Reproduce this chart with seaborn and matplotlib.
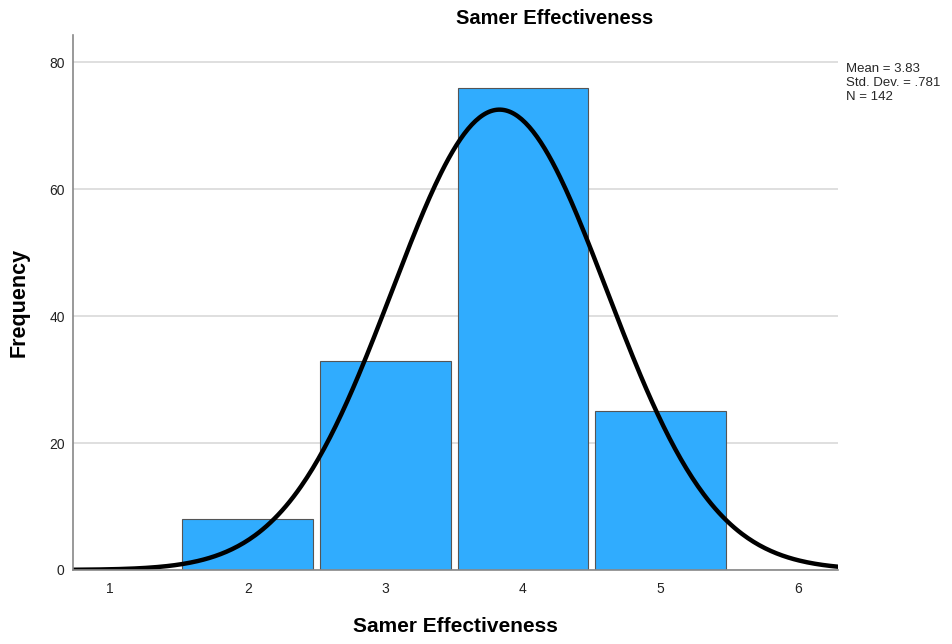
import numpy as np
import pandas as pd
import matplotlib.pyplot as plt
import seaborn as sns

# Data
scores = [2, 3, 4, 5]
counts = [8, 33, 76, 25]
mean_val = 3.83
sd_val = 0.781
n_total = 142

df = pd.DataFrame({"score": scores, "count": counts})

sns.set_style("white")
plt.rcParams["font.family"] = ["Liberation Sans", "DejaVu Sans"]

fig = plt.figure(figsize=(9.52, 6.44), dpi=100)
ax = fig.add_axes([0.0767, 0.115, 0.8035, 0.8307])

ax.yaxis.grid(True, color="#d9d9d9", linewidth=1.2)
ax.set_axisbelow(True)

sns.histplot(data=df, x="score", weights="count", discrete=True, shrink=0.95,
             color="#30acfe", edgecolor="#555555", linewidth=0.8, alpha=1, ax=ax)

# Normal curve from the reported mean / sd
xs = np.linspace(0.73, 6.29, 400)
ys = n_total / (sd_val * np.sqrt(2 * np.pi)) * np.exp(-0.5 * ((xs - mean_val) / sd_val) ** 2)
sns.lineplot(x=xs, y=ys, color="black", linewidth=3.2, ax=ax)

ax.set_xlim(0.73, 6.29)
ax.set_ylim(0, 84.3)
ax.set_xticks([1, 2, 3, 4, 5, 6])
ax.set_yticks([0, 20, 40, 60, 80])
ax.tick_params(axis="x", length=0, labelsize=10, colors="#222222", pad=9)
ax.tick_params(axis="y", length=0, labelsize=10, colors="#222222", pad=6)

for side in ["top", "right"]:
    ax.spines[side].set_visible(False)
for side in ["left", "bottom"]:
    ax.spines[side].set_color("#888888")
    ax.spines[side].set_linewidth(1.2)

fig.text(0.583, 0.972, "Samer Effectiveness", fontsize=14.5, fontweight="bold",
         ha="center", va="center", color="black")
ax.set_xlabel("Samer Effectiveness", fontsize=15, fontweight="bold", labelpad=15, color="black")
ax.set_ylabel("Frequency", fontsize=15.5, fontweight="bold", labelpad=14, color="black")

fig.text(0.889, 0.902, f"Mean = {mean_val:.2f}\nStd. Dev. = .781\nN = {n_total}",
         fontsize=9.5, va="top", ha="left", linespacing=1.2)

fig.savefig("out.png", dpi=100)
